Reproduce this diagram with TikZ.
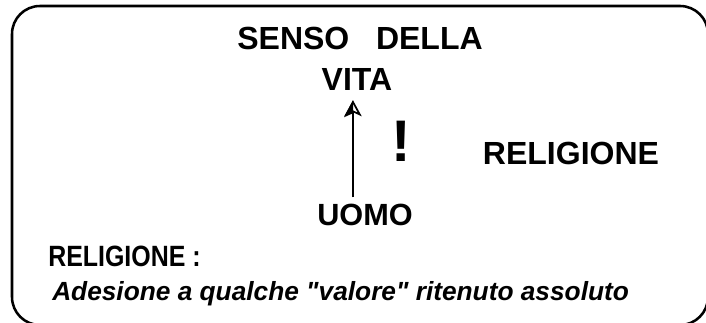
\documentclass[tikz,border=0pt]{standalone}
\usepackage{fontspec}
\setmainfont{Liberation Sans}[Ligatures=TeXOff]
\newfontfamily\narrowfont{Liberation Sans}[FakeStretch=0.85,Ligatures=TeXOff]
\usetikzlibrary{arrows.meta}

\tikzset{
  head/.style={font=\bfseries\fontsize{24}{28}\selectfont, inner sep=0pt, anchor=base},
  narrow/.style={font=\narrowfont\bfseries\fontsize{#1}{#1}\selectfont},
  arr/.style={-{Stealth[length=12pt,width=13pt,open,inset=3pt]}, line width=1.3pt}
}

\begin{document}
\begin{tikzpicture}[x=0.75pt,y=-0.75pt]
\useasboundingbox (0,0) rectangle (706,323);
\clip (0,0) rectangle (706,323);
% frame
\draw[line width=1.9pt, rounded corners=21pt] (12,6) rectangle (708,325);
% title
\node[head] (senso) at (360,50) {SENSO\hspace{20pt}DELLA};
\node[head] (vita) at (357,91) {VITA};
% uomo and arrow
\node[head, font=\bfseries\fontsize{23}{27}\selectfont] (uomo) at (365,226) {UOMO};
\draw[arr] ([shift={(-12,-7)}]uomo.north) -- ([shift={(-4,9)}]vita.south) coordinate (tip);
\fill (tip) -- ++(-9,17) -- ++(9,-4) -- cycle;
% exclamation and religione
\node[head, font=\bfseries\fontsize{44}{48}\selectfont] (excl) at (401,162) {!};
\node[head] (relig) at (571,165) {RELIGIONE};
% definition
\node[head, narrow=22, anchor=base west] (def) at (48,267) {RELIGIONE :};
\node[head, anchor=base west, font=\bfseries\itshape\fontsize{19.7}{23}\selectfont] (desc) at (52,301) {Adesione a qualche "valore" ritenuto assoluto};
\end{tikzpicture}
\end{document}
